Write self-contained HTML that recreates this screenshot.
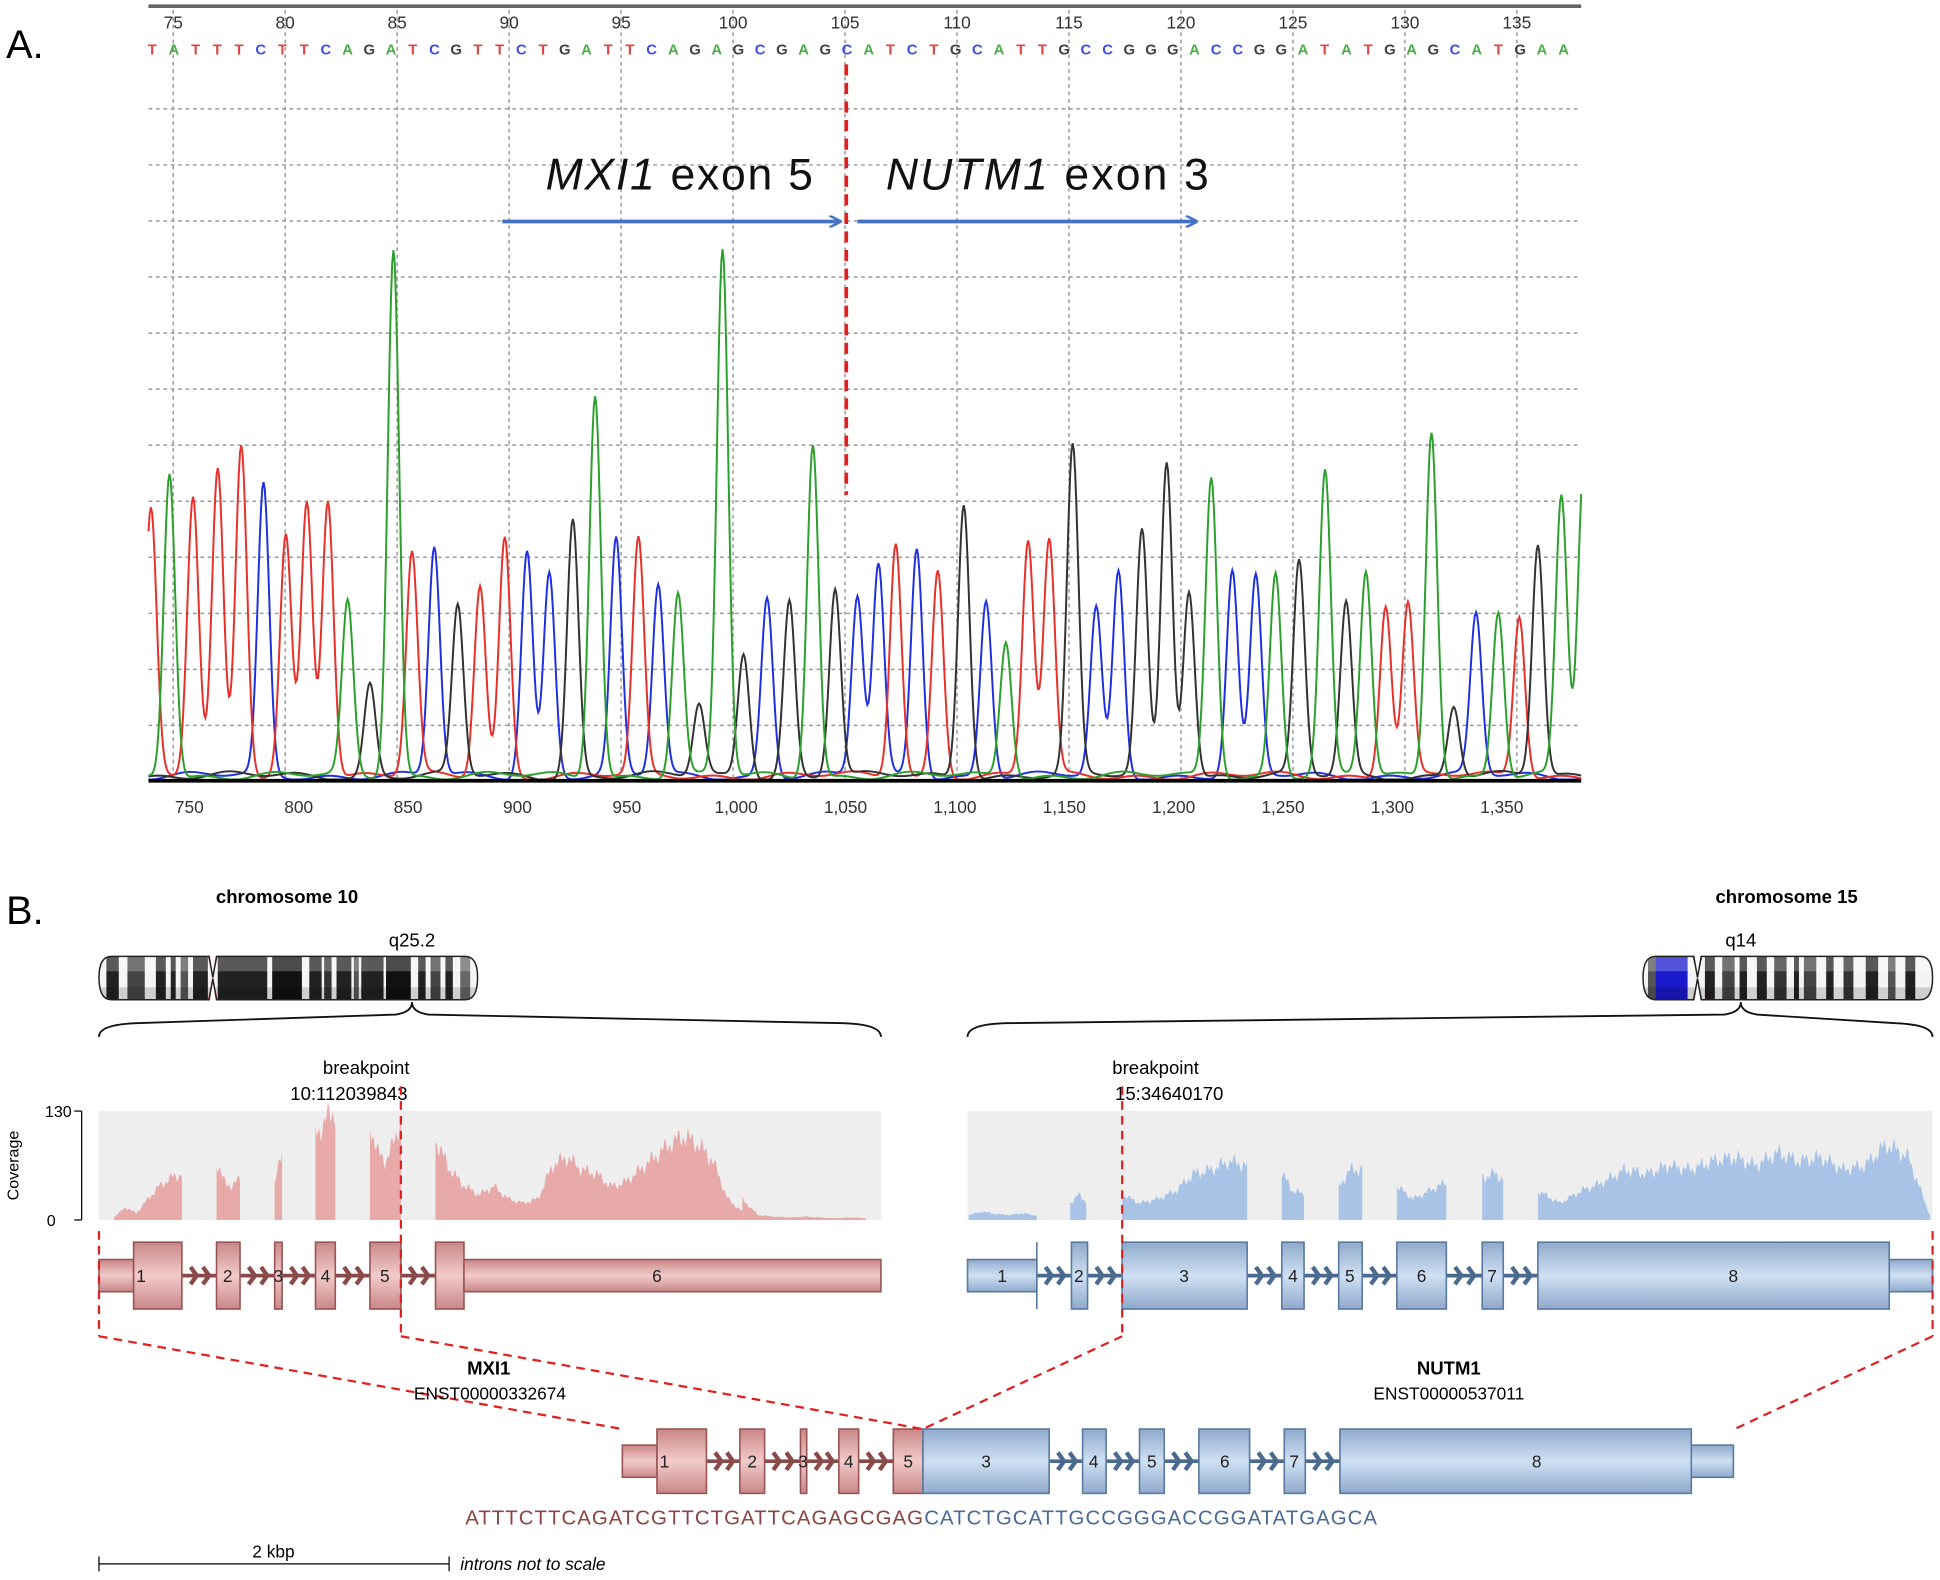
<!DOCTYPE html>
<html><head><meta charset="utf-8"><style>
html,body{margin:0;padding:0;background:#fff;}
svg{display:block;font-family:"Liberation Sans",sans-serif;}
</style></head><body>
<svg id="s" width="1940" height="1580" viewBox="0 0 1568 1277" xmlns="http://www.w3.org/2000/svg">
<defs>
<linearGradient id="gr" x1="0" y1="0" x2="0" y2="1"><stop offset="0" stop-color="#c98787"/><stop offset="0.5" stop-color="#f2caca"/><stop offset="1" stop-color="#c98787"/></linearGradient>
<linearGradient id="gb" x1="0" y1="0" x2="0" y2="1"><stop offset="0" stop-color="#8fa9cc"/><stop offset="0.5" stop-color="#cfe0f3"/><stop offset="1" stop-color="#8fa9cc"/></linearGradient>
<marker id="ah" markerWidth="10" markerHeight="10" refX="9" refY="5" orient="auto" markerUnits="userSpaceOnUse"><path d="M0,0 L10,5 L0,10" fill="none" stroke="#4472c4" stroke-width="2"/></marker>
</defs>
<rect width="1568" height="1277" fill="#fff"/>
<text x="5" y="47" font-size="32">A.</text>
<text x="5" y="747" font-size="32">B.</text>
<g id="grid"></g>
<line x1="120" y1="5" x2="1278" y2="5" stroke="#666" stroke-width="3"/>
<g id="peaks"></g>
<line x1="120" y1="631" x2="1278" y2="631" stroke="#000" stroke-width="3"/>
<g id="seq" font-size="12" font-weight="bold" opacity="0.85"></g>
<g id="ticks" font-size="14" fill="#333"></g>
<line x1="684" y1="52" x2="684" y2="400" stroke="#e02020" stroke-width="3" stroke-dasharray="9,6"/>
<text x="441" y="153" font-size="36" fill="#111" textLength="216"><tspan font-style="italic">MXI1</tspan> exon 5</text>
<text x="716" y="153" font-size="36" fill="#111" textLength="261"><tspan font-style="italic">NUTM1</tspan> exon 3</text>
<line x1="406" y1="179" x2="679" y2="179" stroke="#4472c4" stroke-width="3" marker-end="url(#ah)"/>
<line x1="693" y1="179" x2="967" y2="179" stroke="#4472c4" stroke-width="3" marker-end="url(#ah)"/>

<text x="232" y="730" font-size="15" font-weight="bold" text-anchor="middle">chromosome 10</text>
<text x="1444" y="730" font-size="15" font-weight="bold" text-anchor="middle">chromosome 15</text>
<text x="333" y="765" font-size="15" text-anchor="middle">q25.2</text>
<text x="1407" y="765" font-size="15" text-anchor="middle">q14</text>
<g id="chr"></g>
<path d="M80,838 Q80,828 110,827 L320,820 Q333,818 333,810 Q333,818 346,820 L682,827 Q712,828 712,838" fill="none" stroke="#111" stroke-width="1.5"/>
<path d="M782,838 Q782,828 812,827 L1394,820 Q1407,818 1407,810 Q1407,818 1420,820 L1532,827 Q1562,828 1562,838" fill="none" stroke="#111" stroke-width="1.5"/>
<text x="296" y="868" font-size="15" text-anchor="middle">breakpoint</text>
<text x="282" y="889" font-size="15" text-anchor="middle">10:112039843</text>
<text x="934" y="868" font-size="15" text-anchor="middle">breakpoint</text>
<text x="945" y="889" font-size="15" text-anchor="middle">15:34640170</text>
<rect x="80" y="898" width="632" height="88" fill="#eeeeee"/>
<rect x="782" y="898" width="780" height="88" fill="#eeeeee"/>
<g id="cov"></g>
<line x1="66" y1="898" x2="66" y2="986" stroke="#000"/>
<line x1="60" y1="898" x2="66" y2="898" stroke="#000"/>
<line x1="60" y1="986" x2="66" y2="986" stroke="#000"/>
<text x="58" y="903" font-size="13" text-anchor="end">130</text>
<text x="45" y="991" font-size="13" text-anchor="end">0</text>
<text transform="translate(15,942) rotate(-90)" font-size="13" text-anchor="middle">Coverage</text>
<g id="genes"></g>
<g stroke="#e02020" stroke-width="1.8" stroke-dasharray="7,5" fill="none">
<line x1="324" y1="878" x2="324" y2="1080"/>
<line x1="907" y1="878" x2="907" y2="1080"/>
<line x1="80" y1="995" x2="80" y2="1080"/>
<line x1="1562" y1="995" x2="1562" y2="1080"/>
<line x1="80" y1="1080" x2="503" y2="1155"/>
<line x1="324" y1="1080" x2="746" y2="1155"/>
<line x1="907" y1="1080" x2="746" y2="1155"/>
<line x1="1562" y1="1080" x2="1402" y2="1155"/>
</g>
<text x="395" y="1111" font-size="15" font-weight="bold" text-anchor="middle">MXI1</text>
<text x="396" y="1131" font-size="14" text-anchor="middle">ENST00000332674</text>
<text x="1171" y="1111" font-size="15" font-weight="bold" text-anchor="middle">NUTM1</text>
<text x="1171" y="1131" font-size="14" text-anchor="middle">ENST00000537011</text>
<text x="376" y="1232" font-size="16.5" textLength="370" fill="#8b4545">ATTTCTTCAGATCGTTCTGATTCAGAGCGAG</text>
<text x="747" y="1232" font-size="16.5" textLength="366" fill="#4a6a9a">CATCTGCATTGCCGGGACCGGATATGAGCA</text>
<line x1="80" y1="1264" x2="363" y2="1264" stroke="#000"/>
<line x1="80" y1="1258" x2="80" y2="1270" stroke="#000"/>
<line x1="363" y1="1258" x2="363" y2="1270" stroke="#000"/>
<text x="221" y="1259" font-size="14" text-anchor="middle">2 kbp</text>
<text x="372" y="1269" font-size="14" font-style="italic">introns not to scale</text>
</svg>
<script>
function add(g,h){document.getElementById(g).insertAdjacentHTML('beforeend',h);}
var gh='';
for(var i=0;i<13;i++){var x=140+i*90.5;gh+='<line x1="'+x+'" y1="8" x2="'+x+'" y2="630" stroke="#999" stroke-width="1.2" stroke-dasharray="3,3"/>';}
for(var j=0;j<12;j++){var y=88+j*45.3;gh+='<line x1="120" y1="'+y+'" x2="1278" y2="'+y+'" stroke="#999" stroke-width="1.2" stroke-dasharray="3,3"/>';}
add('grid',gh);
var th='';
for(var i=0;i<13;i++){var x=140+i*90.5;th+='<text x="'+x+'" y="23" text-anchor="middle">'+(75+i*5)+'</text>';}
var bl=['750','800','850','900','950','1,000','1,050','1,100','1,150','1,200','1,250','1,300','1,350'];
for(var i=0;i<13;i++){var x=153+i*88.4;th+='<text x="'+x+'" y="657" text-anchor="middle">'+bl[i]+'</text>';}
add('ticks',th);
var sq='TATTTCTTCAGATCGTTCTGATTCAGAGCGAGCATCTGCATTGCCGGGACCGGATATGAGCATGAA';
var col={A:'#2ca02c',C:'#2030e0',G:'#222',T:'#e02020'};
var sh='';
for(var i=0;i<sq.length;i++){var x=123+i*17.55;if(x>1280)break;sh+='<text x="'+x+'" y="44" text-anchor="middle" fill="'+col[sq[i]]+'">'+sq[i]+'</text>';}
add('seq',sh);
var P=[[122,'r',415],[137,'g',383],[156,'r',405],[176,'r',385],[195,'r',363],[213,'b',395],[231,'r',435],[248,'r',407],[265,'r',405],[281,'g',490],[299,'k',555],[318,'g',203],[333,'r',450],[351,'b',445],[370,'k',493],[388,'r',475],[408,'r',437],[426,'b',447],[444,'b',465],[463,'k',422],[481,'g',320],[498,'b',440],[516,'r',440],[532,'b',476],[548,'g',482],[565,'k',572],[584,'g',205],[601,'k',530],[620,'b',485],[638,'k',488],[657,'g',360],[675,'k',478],[693,'b',485],[710,'b',460],[724,'r',440],[741,'b',445],[758,'r',463],[779,'k',408],[797,'b',487],[813,'g',520],[831,'r',440],[848,'r',440],[867,'k',365],[886,'b',495],[904,'b',465],[923,'k',432],[943,'k',375],[961,'k',478],[979,'g',388],[996,'b',465],[1015,'b',470],[1031,'g',465],[1050,'k',458],[1071,'g',385],[1088,'k',490],[1104,'g',465],[1120,'r',490],[1138,'r',490],[1157,'g',350],[1175,'k',573],[1193,'b',500],[1211,'g',496],[1228,'r',500],[1243,'k',443],[1262,'g',405],[1280,'g',380]];
var C={r:'#e8302a',g:'#2ca02c',b:'#2030e0',k:'#333'};
var base=630,ph='';
['b','r','k','g'].forEach(function(c){
  var pts=[];
  for(var x=120;x<=1278;x+=1){
    var v=3+2*Math.sin(x*0.11+c.charCodeAt(0))+2*Math.sin(x*0.037+c.charCodeAt(0)*2);
    P.forEach(function(p){if(p[1]==c){var d=(x-p[0])/4.6;v+=(base-p[2])*Math.exp(-d*d/2);}});
    pts.push(x+','+(base-Math.max(0,v)).toFixed(1));
  }
  ph+='<polyline points="'+pts.join(' ')+'" fill="none" stroke="'+C[c]+'" stroke-width="1.6"/>';
});
add('peaks',ph);
function chrom(x0,x1,cen,bands){
  var h='',y0=773,y1=808;
  var path='M'+(x0+10)+','+y0+' L'+(cen-3)+','+y0+' L'+cen+','+(y0+17)+' L'+(cen+3)+','+y0+' L'+(x1-10)+','+y0+' Q'+x1+','+y0+' '+x1+','+(y0+17)+' Q'+x1+','+y1+' '+(x1-10)+','+y1+' L'+(cen+3)+','+y1+' L'+cen+','+(y1-17)+' L'+(cen-3)+','+y1+' L'+(x0+10)+','+y1+' Q'+x0+','+y1+' '+x0+','+(y0+17)+' Q'+x0+','+y0+' '+(x0+10)+','+y0+'Z';
  h+='<clipPath id="cp'+x0+'"><path d="'+path+'"/></clipPath>';
  h+='<g clip-path="url(#cp'+x0+')"><rect x="'+x0+'" y="'+y0+'" width="'+(x1-x0)+'" height="35" fill="#f4f4f4"/>';
  bands.forEach(function(b){h+='<rect x="'+b[0]+'" y="'+y0+'" width="'+b[1]+'" height="35" fill="'+(b[2]||'#222')+'"/>';});
  h+='<rect x="'+x0+'" y="'+y0+'" width="'+(x1-x0)+'" height="12" fill="#fff" opacity="0.25"/><rect x="'+x0+'" y="'+(y1-10)+'" width="'+(x1-x0)+'" height="10" fill="#000" opacity="0.15"/>';
  h+='<path d="M'+(cen-4)+','+y0+' L'+cen+','+(y0+17)+' L'+(cen-4)+','+y1+' L'+(cen+4)+','+y1+' L'+cen+','+(y0+17)+' L'+(cen+4)+','+y0+'Z" fill="#e03030"/></g>';
  h+='<path d="'+path+'" fill="none" stroke="#222" stroke-width="1.2"/>';
  add('chr',h);
}
chrom(80,386,172,[[86,10],[103,14,'#444'],[126,8],[138,4],[146,6,'#555'],[156,12],[176,40],[220,24,'#111'],[250,10],[262,6,'#333'],[272,12],[286,4,'#555'],[292,18],[312,20,'#111'],[338,6],[348,8,'#444'],[360,6],[372,8,'#666']]);
chrom(1328,1562,1372,[[1332,6,'#555'],[1338,26,'#1a1acc'],[1378,8],[1392,10,'#444'],[1406,6],[1420,8],[1434,10,'#333'],[1450,4],[1458,10,'#444'],[1476,6],[1490,8,'#333'],[1508,10],[1526,6,'#555'],[1540,8]]);
function cov(segs,color){
  var h='';
  segs.forEach(function(s,k){
    var x0=s[0],x1=s[1],ctrl=s[2];
    var pts=[x0+',986'];
    for(var x=x0;x<=x1;x+=1){
      var t=(x-x0)/(x1-x0),n=ctrl.length-1,f=t*n,i=Math.min(n-1,Math.floor(f)),u=f-i;
      var v=ctrl[i]*(1-u)+ctrl[i+1]*u;
      v+=v*0.08*Math.sin(x*1.7+k)+v*0.08*Math.sin(x*0.6);
      pts.push(x+','+(986-v*88/130).toFixed(1));
    }
    pts.push(x1+',986');
    h+='<polygon points="'+pts.join(' ')+'" fill="'+color+'"/>';
  });
  add('cov',h);
}
cov([[92,147,[3,15,8,25,40,50,55]],[175,194,[70,45,40,50]],[222,228,[40,90]],[255,271,[105,110,125,130]],[299,324,[115,80,70,90,120]],[352,600,[95,60,40,30,40,25,20,25,65,75,60,55,40,45,60,75,90,100,90,70,25,10]],[600,700,[25,6,4,3,4,3,2,3,2]]],'#e8a9a9');
cov([[783,838,[6,10,7,6,8,5]],[865,878,[20,30,22]],[907,1008,[30,20,25,35,55,60,70,65]],[1036,1054,[55,35,30]],[1082,1101,[40,60,60]],[1129,1169,[40,25,35,45]],[1198,1215,[50,55,50]],[1243,1560,[35,20,35,45,60,55,65,60,70,75,65,80,70,75,60,65,90,75,5]]],'#a8c3e6');
function gene(y,exons,labs){
  var h='';
  for(var i=0;i<exons.length-1;i++){
    var a=exons[i][1],b=exons[i+1][0];
    if(b-a<2)continue;
    var ac=exons[i+1][4]=='b'?'#4a6a8e':'#8b4a4a';
    h+='<line x1="'+a+'" y1="'+y+'" x2="'+b+'" y2="'+y+'" stroke="'+ac+'" stroke-width="3"/>';
    var n=Math.max(1,Math.floor((b-a-6)/9));
    for(var k=0;k<n;k++){var cx=a+6+k*((b-a-8)/n)+6;h+='<path d="M'+(cx-5)+','+(y-7)+' L'+cx+','+y+' L'+(cx-5)+','+(y+7)+'" fill="none" stroke="'+ac+'" stroke-width="3.5"/>';}
  }
  exons.forEach(function(e){
    var f=e[4]=='b'?'url(#gb)':'url(#gr)';
    var st=e[4]=='b'?'#5a7aa0':'#955';
    h+='<rect x="'+e[0]+'" y="'+(y-e[2])+'" width="'+(e[1]-e[0])+'" height="'+(2*e[2])+'" fill="'+f+'" stroke="'+st+'" stroke-width="1.3"/>';
  });
  labs.forEach(function(l){h+='<text x="'+l[0]+'" y="'+(y+5)+'" font-size="14" text-anchor="middle" fill="#222">'+l[1]+'</text>';});
  add('genes',h);
}
gene(1031,[[80,108,13,'','r'],[108,147,27,'','r'],[175,194,27,'2','r'],[222,228,27,'3','r'],[255,271,27,'4','r'],[299,324,27,'5','r'],[352,375,27,'','r'],[375,712,13,'6','r']],[[114,'1'],[184,'2'],[225,'3'],[263,'4'],[311,'5'],[531,'6']]);
gene(1031,[[782,838,13,'1','b'],[866,879,27,'2','b'],[907,1008,27,'3','b'],[1036,1054,27,'4','b'],[1082,1101,27,'5','b'],[1129,1169,27,'6','b'],[1198,1215,27,'7','b'],[1243,1527,27,'8','b'],[1527,1562,13,'','b']],[[810,'1'],[872,'2'],[957,'3'],[1045,'4'],[1091,'5'],[1149,'6'],[1206,'7'],[1401,'8']]);
add('genes','<line x1="838" y1="1004" x2="838" y2="1058" stroke="#5a7aa0" stroke-width="1.3"/>');
gene(1181,[[503,531,13,'','r'],[531,571,26,'1','r'],[598,618,26,'2','r'],[647,652,26,'3','r'],[678,694,26,'4','r'],[722,746,26,'5','r'],[746,848,26,'3','b'],[875,894,26,'4','b'],[921,941,26,'5','b'],[969,1010,26,'6','b'],[1038,1055,26,'7','b'],[1083,1367,26,'8','b'],[1367,1401,13,'','b']],[[537,'1'],[608,'2'],[649,'3'],[686,'4'],[734,'5'],[797,'3'],[884,'4'],[931,'5'],[990,'6'],[1046,'7'],[1242,'8']]);
</script>
</body></html>
